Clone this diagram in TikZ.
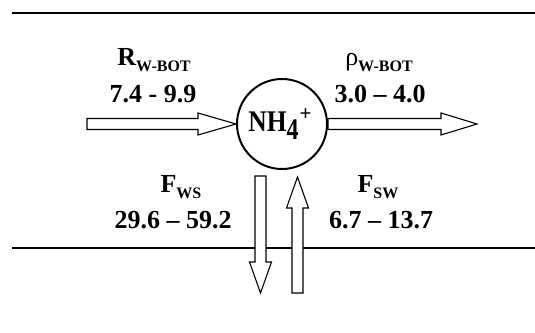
\documentclass[tikz,border=0pt]{standalone}
\usepackage{fontspec}
\setmainfont{Liberation Serif}
\usetikzlibrary{calc,positioning}

% hollow block arrow from #1 to #2, head length #3
\newcommand{\blockarrow}[3]{%
  \draw[block] let \p1=($(#2)-(#1)$), \n1={veclen(\x1,\y1)}, \n2={atan2(\y1,\x1)} in
    [shift={(#1)}, rotate=\n2]
    (0,-5.5) -- (\n1-#3,-5.5) -- (\n1-#3,-11) -- (\n1,0) -- (\n1-#3,11) -- (\n1-#3,5.5) -- (0,5.5) -- cycle;}
\newcommand{\sub}[1]{\raisebox{-6pt}{\fontsize{16}{16}\selectfont #1}}

\begin{document}
\begin{tikzpicture}[
    x=1pt, y=1pt,
    every node/.style={font=\bfseries\fontsize{26}{28}\selectfont, inner sep=0pt},
    species/.style={draw, circle, line width=2pt, minimum size=90pt},
    block/.style={draw, line width=1.1pt, fill=white},
    interface/.style={line width=2.2pt},
    label/.style={anchor=base}
]
\useasboundingbox (0,0) rectangle (535,332);
% water column boundaries
\coordinate (topL) at (12,319);
\coordinate (topR) at (535,319);
\coordinate (botL) at (12,84);
\coordinate (botR) at (535,84);
\draw[interface] (topL) -- (topR);
\draw[interface] (botL) -- (botR);

\node[species, font=\bfseries\fontsize{30}{30}\selectfont] (nh4) at (282,208)
  {\kern-4pt\scalebox{0.85}[1]{NH}\raisebox{-8pt}{\scalebox{0.8}[1]{4}}\kern1pt\raisebox{11pt}{\fontsize{21}{21}\selectfont +}};

\coordinate (rin) at (87,208);
\coordinate (rout) at (477,208);
\coordinate (wsTop) at ($(nh4.south)+(-21.5,-6)$);
\coordinate (wsBot) at (wsTop |- 0,39);
\coordinate (swTop) at ($(nh4.south)+(15.5,-7)$);
\coordinate (swBot) at (swTop |- 0,39);

\blockarrow{rin}{nh4.west}{38}
\blockarrow{nh4.east}{rout}{36}
\blockarrow{wsTop}{wsBot}{31}
\blockarrow{swBot}{swTop}{31}

\node[label] (rName) at (154,266) {R\sub{W-BOT}};
\node[label] (rVal) at (153,229) {7.4 - 9.9};
\node[label] (rhoName) at (379,266) {{\mdseries ρ}\sub{W-BOT}};
\node[label] (rhoVal) at (380,229) {3.0 -- 4.0};
\node[label] (wsName) at (181,139) {F\sub{WS}};
\node[label] (wsVal) at (173,103) {29.6 -- 59.2};
\node[label] (swName) at (378,139) {F\sub{SW}};
\node[label] (swVal) at (381,103) {6.7 -- 13.7};
\end{tikzpicture}
\end{document}
